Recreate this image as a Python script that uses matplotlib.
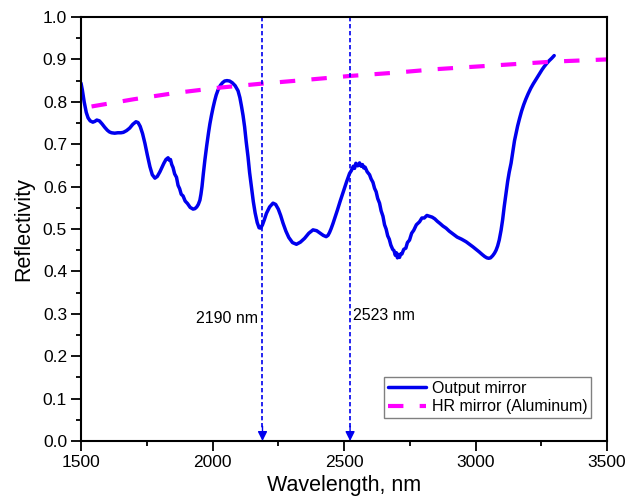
import matplotlib
matplotlib.use("Agg")
import matplotlib.pyplot as plt
from matplotlib.ticker import MultipleLocator, FormatStrFormatter

plt.rcParams['font.family'] = ['Liberation Sans', 'DejaVu Sans']

out_wl = [1500, 1505, 1512, 1520, 1527, 1535, 1545, 1553, 1560, 1570, 1580, 1590, 1600, 1608,
          1616, 1628, 1640, 1652, 1661, 1673, 1685, 1697, 1709, 1717, 1725, 1734,
          1743, 1752, 1762, 1771, 1781, 1790, 1800, 1808, 1815, 1823, 1831, 1836, 1840, 1845,
          1850, 1856, 1863, 1869, 1875, 1881, 1888, 1896, 1905, 1915, 1926, 1933,
          1940, 1946, 1952, 1956, 1960, 1965, 1971, 1978, 1985, 1990, 1996, 2002, 2008, 2014,
          2021, 2030, 2038, 2046, 2055, 2065, 2075, 2086, 2097, 2104, 2110, 2116,
          2122, 2128, 2135, 2141, 2148, 2155, 2162, 2170, 2177, 2183, 2190, 2197, 2205, 2217,
          2230, 2240, 2250, 2259, 2268, 2279, 2290, 2304, 2319, 2334, 2350, 2366,
          2382, 2396, 2410, 2421, 2432, 2439, 2445, 2451, 2458, 2466, 2475, 2485, 2495, 2503,
          2510, 2516, 2521, 2528, 2535, 2540, 2545, 2552, 2559, 2565, 2570, 2575,
          2580, 2588, 2597, 2603, 2610, 2616, 2622, 2628, 2635, 2641, 2648, 2654, 2660, 2666,
          2672, 2678, 2685, 2690, 2695, 2699, 2703, 2707, 2711, 2715, 2720, 2727,
          2735, 2741, 2749, 2757, 2765, 2775, 2787, 2796, 2805, 2815, 2825, 2835, 2845, 2855,
          2865, 2876, 2888, 2900, 2915, 2930, 2947, 2964, 2977, 2990,
          3002, 3014, 3025, 3035, 3043, 3050, 3057, 3065, 3072, 3078, 3084, 3090, 3097, 3103,
          3109, 3116, 3122, 3128, 3135, 3141, 3148, 3154, 3160, 3167, 3175, 3183, 3191,
          3200, 3210, 3219, 3229, 3237, 3245, 3253, 3261, 3270, 3280, 3290, 3299]
out_r = [0.844, 0.828, 0.800, 0.775, 0.762, 0.755, 0.752, 0.754, 0.757, 0.755, 0.748, 0.740, 0.733, 0.729,
         0.727, 0.726, 0.727, 0.727, 0.728, 0.732, 0.738, 0.747, 0.753, 0.751, 0.742, 0.725,
         0.702, 0.675, 0.647, 0.628, 0.620, 0.624, 0.635, 0.646, 0.655, 0.664, 0.668, 0.662, 0.664, 0.652,
         0.645, 0.630, 0.622, 0.603, 0.595, 0.582, 0.578, 0.566, 0.560, 0.551, 0.547, 0.548,
         0.552, 0.558, 0.568, 0.582, 0.600, 0.630, 0.663, 0.697, 0.728, 0.748, 0.768, 0.786, 0.802, 0.816,
         0.828, 0.839, 0.845, 0.849, 0.850, 0.849, 0.845, 0.838, 0.826, 0.810, 0.790, 0.768,
         0.741, 0.706, 0.670, 0.633, 0.598, 0.565, 0.538, 0.515, 0.503, 0.502, 0.510, 0.522, 0.537, 0.552,
         0.561, 0.558, 0.547, 0.532, 0.514, 0.495, 0.480, 0.468, 0.464, 0.469, 0.478, 0.490,
         0.498, 0.496, 0.490, 0.485, 0.482, 0.485, 0.492, 0.501, 0.513, 0.528, 0.545, 0.565, 0.584, 0.600,
         0.612, 0.622, 0.631, 0.638, 0.648, 0.643, 0.655, 0.649, 0.656, 0.648, 0.652, 0.644,
         0.646, 0.635, 0.628, 0.618, 0.610, 0.596, 0.588, 0.572, 0.561, 0.543, 0.530, 0.510, 0.500, 0.484,
         0.476, 0.462, 0.452, 0.449, 0.438, 0.444, 0.432, 0.440, 0.433, 0.441, 0.441, 0.452,
         0.455, 0.468, 0.474, 0.490, 0.497, 0.510, 0.517, 0.526, 0.526, 0.532, 0.530, 0.528, 0.524, 0.518,
         0.513, 0.507, 0.502, 0.495, 0.488, 0.481, 0.476, 0.470, 0.464, 0.458,
         0.452, 0.446, 0.440, 0.435, 0.432, 0.431, 0.432, 0.437, 0.443, 0.450, 0.460, 0.474, 0.497, 0.522,
         0.553, 0.585, 0.612, 0.634, 0.655, 0.680, 0.708, 0.726, 0.743, 0.760, 0.778, 0.793, 0.806,
         0.819, 0.832, 0.842, 0.852, 0.860, 0.868, 0.876, 0.883, 0.890, 0.897, 0.903, 0.909]

hr_wl = [1540, 1700, 1860, 2020, 2190, 2360, 2523, 2700, 2850, 3000, 3150, 3300, 3500]
hr_r = [0.789, 0.806, 0.821, 0.833, 0.843, 0.852, 0.861, 0.869, 0.877, 0.883, 0.889, 0.895, 0.900]

# Marked wavelengths
mark_wl = [2190, 2523]
mark_labels = ["2190 nm", "2523 nm"]

fig = plt.figure(figsize=(6.27, 4.99), dpi=100)
ax = fig.add_axes([0.1292, 0.1162, 0.839, 0.8497])

ax.plot(out_wl, out_r, color='#0000ee', lw=2.5, label='Output mirror',
        solid_joinstyle='round', solid_capstyle='round')
ax.plot(hr_wl, hr_r, color='#ff00ff', lw=3, dashes=(3.7, 3.9), label='HR mirror (Aluminum)')

for wl in mark_wl:
    ax.plot([wl, wl], [1.0, 0.03], color='#0000ee', lw=1.2, dashes=(2.6, 1.6))
    ax.annotate('', xy=(wl, 0.0), xytext=(wl, 0.035),
                arrowprops=dict(arrowstyle='-|>', color='#0000ee', lw=1.0,
                                mutation_scale=14, shrinkA=0, shrinkB=0))

ax.text(mark_wl[0] - 18, 0.288, mark_labels[0], ha='right', va='center', fontsize=11.5)
ax.text(mark_wl[1] + 12, 0.297, mark_labels[1], ha='left', va='center', fontsize=11.5)

ax.set_xlim(1500, 3500)
ax.set_ylim(0.0, 1.0)
ax.xaxis.set_major_locator(MultipleLocator(500))
ax.xaxis.set_minor_locator(MultipleLocator(250))
ax.yaxis.set_major_locator(MultipleLocator(0.1))
ax.yaxis.set_minor_locator(MultipleLocator(0.05))
ax.yaxis.set_major_formatter(FormatStrFormatter('%.1f'))
ax.tick_params(which='major', direction='out', length=7, width=1.3, labelsize=12.5, pad=3)
ax.tick_params(which='minor', direction='out', length=3.5, width=1.3)
ax.tick_params(top=False, right=False, which='both')
for s in ax.spines.values():
    s.set_linewidth(1.5)

ax.set_xlabel('Wavelength, nm', fontsize=15.5, labelpad=4)
ax.set_ylabel('Reflectivity', fontsize=15.5, labelpad=6)

leg = ax.legend(loc='lower right', bbox_to_anchor=(0.970, 0.054), fontsize=11.5,
                frameon=True, fancybox=False, edgecolor='#808080', framealpha=1,
                handlelength=2.4, handletextpad=0.35, borderpad=0.25, labelspacing=0.2,
                borderaxespad=0)
leg.get_frame().set_linewidth(1.0)

fig.savefig('out.png', dpi=100)
